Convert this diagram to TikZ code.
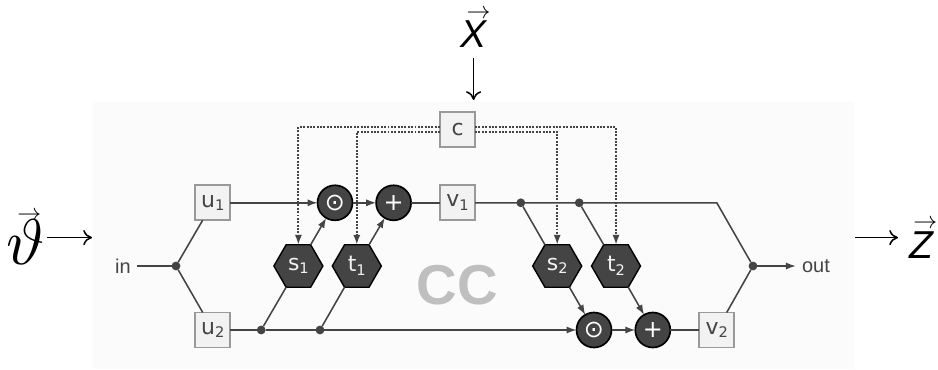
\documentclass[tikz,border=0pt]{standalone}
\usepackage{fontspec}
\setsansfont{Liberation Sans}
\newfontfamily\dejavu{DejaVu Sans}
\usepackage{graphicx}
\usepackage{tikz}
\usetikzlibrary{shapes}
\usetikzlibrary{arrows.meta}
\definecolor{wire}{HTML}{444444}
\newcommand{\sublabel}[2]{#1\raisebox{-0.3ex}{\fontsize{10.4}{12}\selectfont #2}}
\newcommand{\arrowover}[3]{\rlap{\kern#1\raisebox{#2}{\scalebox{1.7}{$\rightarrow$}}}#3}
\tikzstyle{wireline} = [draw=wire, line width=1.1pt, >={Latex[length=2.5mm,width=1.8mm]}]
\tikzstyle{condline} = [wireline, line width=1.3pt, dash pattern=on 1.4pt off 1pt]
\tikzstyle{bigarrow} = [draw=black, line width=1.1pt, -{To[length=2.2mm,width=3.8mm]}]
\tikzstyle{block} = [rectangle, minimum size=0.875cm, inner sep=0pt, outer sep=0pt, draw=black!40, line width=1.4pt, fill=black!5, text=wire, font=\dejavu\fontsize{15.6}{18}\selectfont]
\tikzstyle{hexa} = [regular polygon, regular polygon sides=6, minimum size=1.225cm, inner sep=0pt, outer sep=0pt, draw=black, line width=1pt, fill=wire, text=black!5, font=\dejavu\fontsize{15.6}{18}\selectfont]
\tikzstyle{opnode} = [circle, minimum size=0.875cm, inner sep=0pt, outer sep=0pt, draw=black, line width=1.2pt, fill=wire, text=white, font=\dejavu\fontsize{17}{20}\selectfont]
\tikzstyle{joint} = [circle, minimum size=0.22cm, inner sep=0pt, outer sep=0pt, fill=wire]
\tikzstyle{portlabel} = [inner sep=0.15cm, text=wire, font=\sffamily\fontsize{14.2}{16}\selectfont]
\begin{document}
\begin{tikzpicture}

    \useasboundingbox (0, 0) rectangle (23.45, -9.25);
    \fill[black!1.5] (2.325, -2.56) rectangle (21.35, -9.225);
    \node[text=black!25, font=\sffamily\bfseries\fontsize{40}{44}\selectfont] (cc) at (11.43, -7.13) {CC};

    % top row
    \node(u1)[block] at (5.32, -5.07) {\sublabel{u}{1}};
    \node(odot1)[opnode] at (8.375, -5.07) {⊙};
    \node(plus1)[opnode] at (9.84, -5.07) {+};
    \node(v1)[block] at (11.44, -5.07) {\sublabel{v}{1}};
    \node(dots2)[joint] at (13.02, -5.07) {};
    \node(dott2)[joint] at (14.48, -5.07) {};
    \coordinate(knee) at (17.92, -5.07);

    % middle row
    \node(inlabel)[portlabel] at (3.075, -6.65) {in};
    \node(split)[joint] at (4.4, -6.65) {};
    \node(s1)[hexa] at (7.46, -6.65) {\sublabel{s}{1}};
    \node(t1)[hexa] at (8.92, -6.65) {\sublabel{t}{1}};
    \node(s2)[hexa] at (13.93, -6.65) {\sublabel{s}{2}};
    \node(t2)[hexa] at (15.4, -6.65) {\sublabel{t}{2}};
    \node(merge)[joint] at (18.825, -6.65) {};
    \node(outlabel)[portlabel] at (20.4, -6.65) {out};

    % bottom row
    \node(u2)[block] at (5.32, -8.25) {\sublabel{u}{2}};
    \node(dots1)[joint] at (6.53, -8.25) {};
    \node(dott1)[joint] at (8, -8.25) {};
    \node(odot2)[opnode] at (14.85, -8.25) {⊙};
    \node(plus2)[opnode] at (16.32, -8.25) {+};
    \node(v2)[block] at (17.92, -8.25) {\sublabel{v}{2}};

    \node(c)[block] at (11.44, -3.24) {c};

    \draw[wireline] (inlabel) -- (split);
    \draw[wireline] (split) -- (u1);
    \draw[wireline] (split) -- (u2);
    \draw[wireline, ->] (u1) -- (odot1);
    \draw[wireline, ->] (odot1) -- (plus1);
    \draw[wireline] (plus1) -- (v1);
    \draw[wireline] (v1) -- (knee) -- (merge);
    \draw[wireline] (u2) -- (dots1);
    \draw[wireline, ->] (dott1) -- (odot2);
    \draw[wireline] (dots1) -- (dott1);
    \draw[wireline, ->] (odot2) -- (plus2);
    \draw[wireline] (plus2) -- (v2);
    \draw[wireline] (v2) -- (merge);
    \draw[wireline, ->] (merge) -- (outlabel);

    \draw[wireline] (dots1) -- (s1.240);
    \draw[wireline] (dott1) -- (t1.240);
    \draw[wireline, ->] (s1.60) -- (odot1);
    \draw[wireline, ->] (t1.60) -- (plus1);
    \draw[wireline] (dots2) -- (s2.120);
    \draw[wireline] (dott2) -- (t2.120);
    \draw[wireline, ->] (s2.300) -- (odot2);
    \draw[wireline, ->] (t2.300) -- (plus2);

    \draw[condline, ->] ([yshift=0.07cm]c.west) -| (s1);
    \draw[condline, ->] ([yshift=-0.055cm]c.west) -| (t1);
    \draw[condline, ->] ([yshift=-0.055cm]c.east) -| (s2);
    \draw[condline, ->] ([yshift=0.07cm]c.east) -| (t2);

    % outer labels
    \node(x)[anchor=base, inner sep=0pt] at (11.84, -1.2) {\arrowover{4.3pt}{21.3pt}{\fontsize{27.7}{30}\selectfont\sffamily\itshape X}};
    \node(theta)[anchor=base, inner sep=0pt] at (0.64, -6.625) {\arrowover{7.8pt}{31.3pt}{\scalebox{4.6}{$\vartheta$}}};
    \node(z)[anchor=base, inner sep=0pt] at (23.03, -6.475) {\arrowover{2.8pt}{21.5pt}{\fontsize{27.7}{30}\selectfont\sffamily\itshape Z}};
    \coordinate(xend) at (11.84, -2.5);
    \coordinate(thetaend) at (2.3, -5.94);
    \coordinate(zstart) at (21.375, -5.94);
    \draw[bigarrow] ([yshift=-0.25cm]x.base) -- (xend);
    \draw[bigarrow] ([xshift=0.05cm]theta.east |- thetaend) -- (thetaend);
    \draw[bigarrow] (zstart) -- ([xshift=-0.275cm]z.west |- zstart);

\end{tikzpicture}
\end{document}
